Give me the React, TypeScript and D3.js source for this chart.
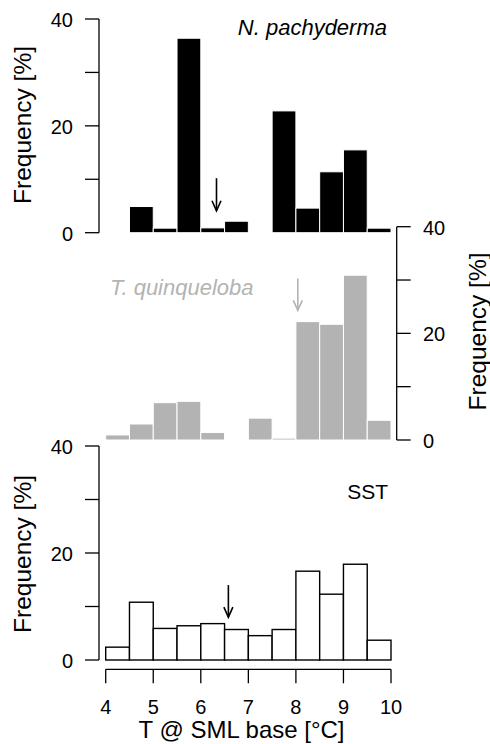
import React from "react";
import * as d3 from "d3";

// Temperature bins (lower edges, °C), each 0.5 °C wide
const binStarts = [4.0, 4.5, 5.0, 5.5, 6.0, 6.5, 7.0, 7.5, 8.0, 8.5, 9.0, 9.5];
const binWidth = 0.5;

// Frequency [%] per bin
const pachyderma = [0, 4.9, 0.85, 36.4, 0.9, 2.15, 0, 22.8, 4.6, 11.4, 15.5, 0.85];
const quinqueloba = [0.95, 3.0, 7.0, 7.25, 1.4, 0, 4.1, 0.35, 22.2, 21.7, 30.9, 3.7];
const sst = [2.4, 10.8, 5.9, 6.4, 6.8, 5.7, 4.55, 5.7, 16.6, 12.3, 17.9, 3.7];

// Arrow markers: x position (°C), tail and tip heights (%)
const arrowPach = { x: 6.33, from: 10.2, to: 4.1 };
const arrowQuin = { x: 8.04, from: 30.3, to: 24.3 };
const arrowSst = { x: 6.58, from: 14.0, to: 8.0 };

const xTicks = [4, 5, 6, 7, 8, 9, 10];
const yTicks = [0, 10, 20, 30, 40];
const yLabels = [0, 20, 40];

const FONT = "'Liberation Sans', Arial, sans-serif";
const GREY = "#b3b3b3";

const x = d3.scaleLinear().domain([4, 10]).range([105.7, 391]);
const yTop = d3.scaleLinear().domain([0, 40]).range([232.7, 19]);
const yMid = d3.scaleLinear().domain([0, 40]).range([440, 226.7]);
const yBot = d3.scaleLinear().domain([0, 40]).range([660, 446]);

function Bars({ values, y, fill, stroke, strokeWidth }: any) {
  return (
    <g>
      {values.map((v: number, i: number) =>
        v > 0 ? (
          <rect
            key={i}
            x={x(binStarts[i])}
            y={y(v)}
            width={x(binStarts[i] + binWidth) - x(binStarts[i])}
            height={y(0) - y(v)}
            fill={fill}
            stroke={stroke}
            strokeWidth={strokeWidth}
          />
        ) : null
      )}
    </g>
  );
}

function Arrow({ a, y, color }: any) {
  const px = x(a.x);
  const y0 = y(a.from);
  const y1 = y(a.to);
  return (
    <g stroke={color} strokeWidth={1.6} fill="none">
      <line x1={px} y1={y0} x2={px} y2={y1} />
      <path d={`M${px - 4.5},${y1 - 10} L${px},${y1} L${px + 4.5},${y1 - 10}`} />
    </g>
  );
}

function LeftAxis({ y }: any) {
  const ax = 99;
  return (
    <g stroke="#000" strokeWidth={1.3}>
      <line x1={ax} x2={ax} y1={y(0)} y2={y(40)} />
      {yTicks.map((t) => (
        <line key={t} x1={ax - 14} x2={ax} y1={y(t)} y2={y(t)} />
      ))}
      {yLabels.map((t) => (
        <text
          key={"l" + t}
          x={73}
          y={y(t) + 1}
          textAnchor="end"
          dominantBaseline="central"
          fontSize={20}
          fontFamily={FONT}
          stroke="none"
          fill="#000"
        >
          {t}
        </text>
      ))}
    </g>
  );
}

function RightAxis({ y }: any) {
  const ax = 396.7;
  return (
    <g stroke="#000" strokeWidth={1.3}>
      <line x1={ax} x2={ax} y1={y(0)} y2={y(40)} />
      {yTicks.map((t) => (
        <line key={t} x1={ax} x2={ax + 14} y1={y(t)} y2={y(t)} />
      ))}
      {yLabels.map((t) => (
        <text
          key={"l" + t}
          x={423}
          y={y(t) + 1}
          textAnchor="start"
          dominantBaseline="central"
          fontSize={20}
          fontFamily={FONT}
          stroke="none"
          fill="#000"
        >
          {t}
        </text>
      ))}
    </g>
  );
}

export default function App() {
  const axisY = 669.3;
  return (
    <svg
      width={490}
      height={744}
      style={{ position: "absolute", left: 0, top: 0, background: "#fff" }}
    >
      <rect x={0} y={0} width={490} height={744} fill="#fff" />

      {/* N. pachyderma */}
      <Bars values={pachyderma} y={yTop} fill="#000" stroke="#fff" strokeWidth={1} />
      <LeftAxis y={yTop} />
      <Arrow a={arrowPach} y={yTop} color="#000" />
      <text x={387} y={35} textAnchor="end" fontSize={22} fontStyle="italic" fontFamily={FONT}>
        N. pachyderma
      </text>
      <text
        transform={`translate(22.5,125) rotate(-90)`}
        textAnchor="middle"
        dominantBaseline="central"
        fontSize={24.5}
        fontFamily={FONT}
      >
        Frequency [%]
      </text>

      {/* T. quinqueloba */}
      <Bars values={quinqueloba} y={yMid} fill={GREY} stroke="#fff" strokeWidth={1} />
      <RightAxis y={yMid} />
      <Arrow a={arrowQuin} y={yMid} color={GREY} />
      <text x={110} y={295} textAnchor="start" fontSize={22} fontStyle="italic" fontFamily={FONT} fill={GREY}>
        T. quinqueloba
      </text>
      <text
        transform={`translate(477.5,331.5) rotate(-90)`}
        textAnchor="middle"
        dominantBaseline="central"
        fontSize={24.5}
        fontFamily={FONT}
      >
        Frequency [%]
      </text>

      {/* SST */}
      <Bars values={sst} y={yBot} fill="#fff" stroke="#000" strokeWidth={1.4} />
      <LeftAxis y={yBot} />
      <Arrow a={arrowSst} y={yBot} color="#000" />
      <text x={388} y={499} textAnchor="end" fontSize={21} fontFamily={FONT}>
        SST
      </text>
      <text
        transform={`translate(22.5,554) rotate(-90)`}
        textAnchor="middle"
        dominantBaseline="central"
        fontSize={24.5}
        fontFamily={FONT}
      >
        Frequency [%]
      </text>

      {/* x axis */}
      <g stroke="#000" strokeWidth={1.3}>
        <line x1={x(4)} x2={x(10)} y1={axisY} y2={axisY} />
        {xTicks.map((t) => (
          <line key={t} x1={x(t)} x2={x(t)} y1={axisY} y2={axisY + 14} />
        ))}
      </g>
      {xTicks.map((t) => (
        <text key={"xl" + t} x={x(t)} y={714} textAnchor="middle" fontSize={20} fontFamily={FONT}>
          {t}
        </text>
      ))}
      <text x={241.5} y={738} textAnchor="middle" fontSize={24} fontFamily={FONT}>
        T @ SML base [°C]
      </text>
    </svg>
  );
}
